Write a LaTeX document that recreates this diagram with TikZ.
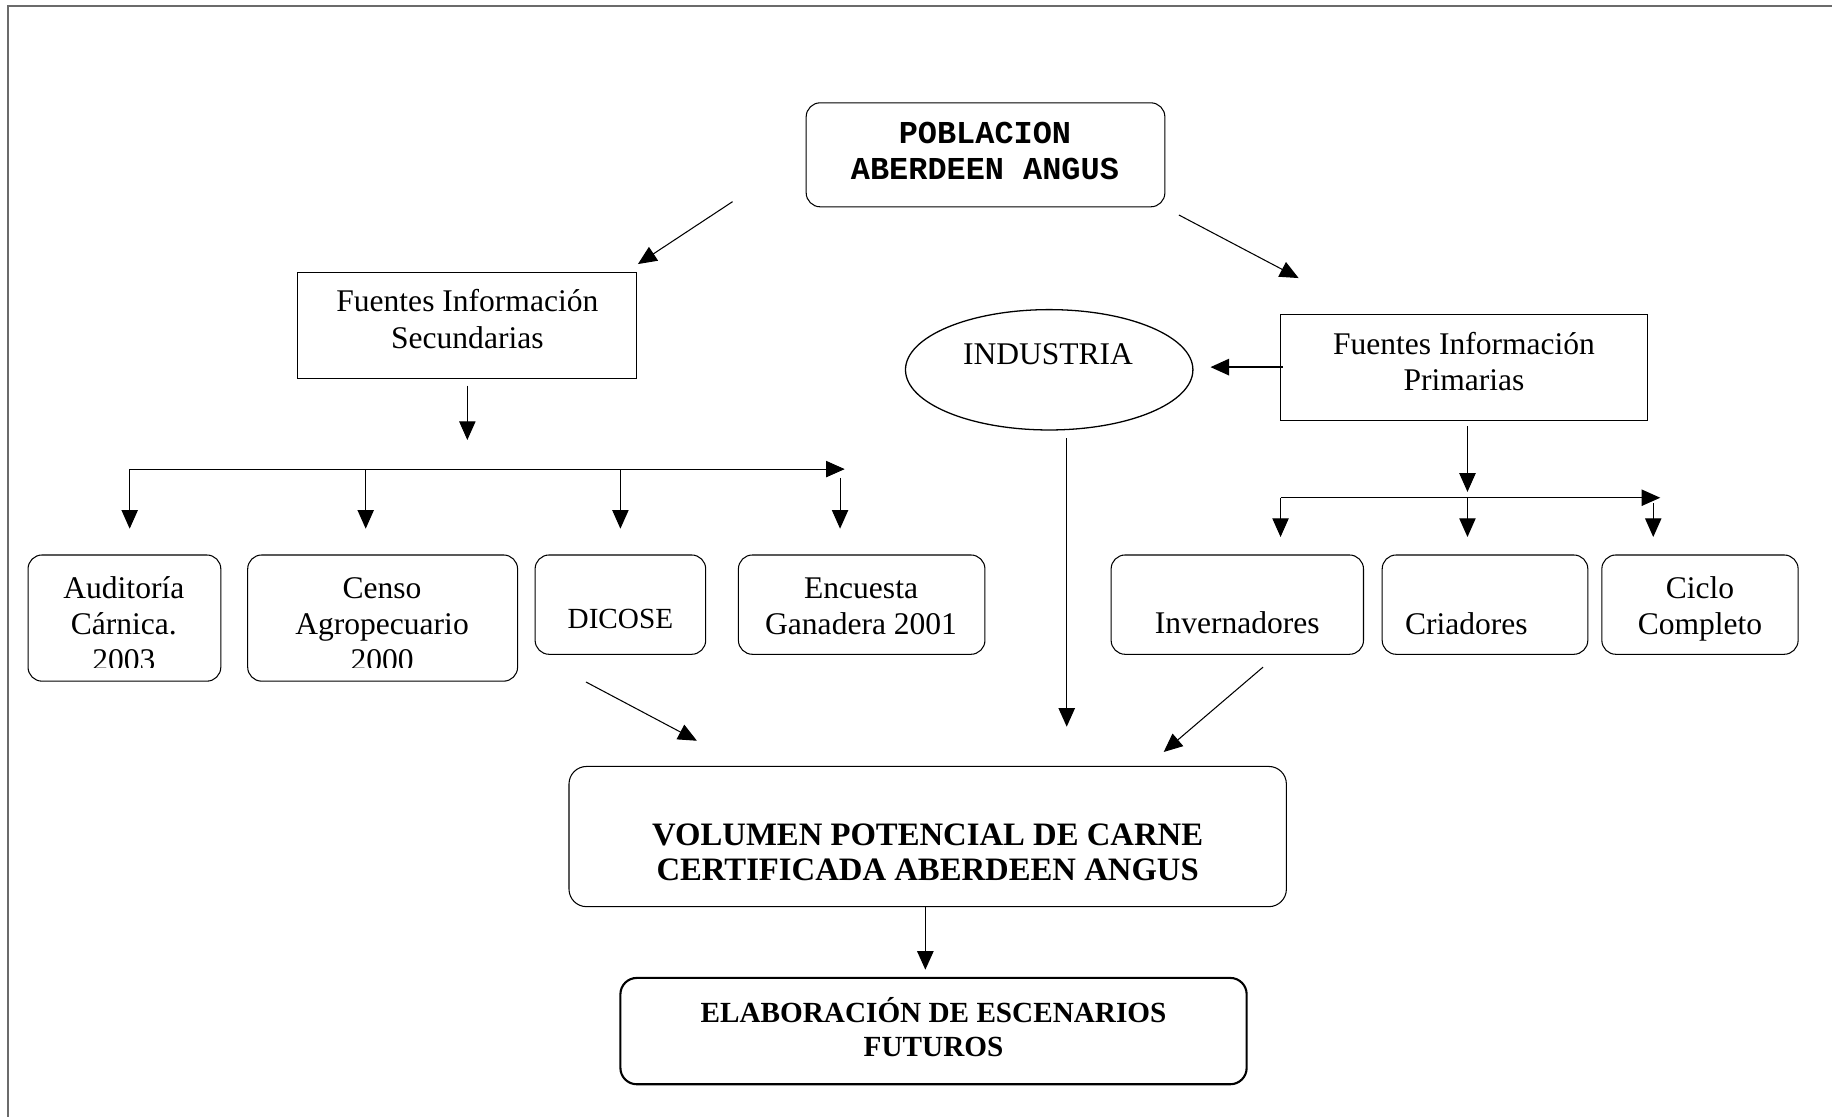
\documentclass[tikz,border=0pt]{standalone}
\usepackage{fontspec}
\setmainfont{Liberation Serif}
\setmonofont{Liberation Mono}
\usetikzlibrary{arrows.meta,shapes.geometric}
\begin{document}
\begin{tikzpicture}[x=1pt,y=-1pt,
  rbox/.style={draw, rounded corners=12pt, line width=0.9pt, inner sep=0pt},
  sbox/.style={draw, line width=0.9pt, inner sep=0pt},
  txt/.style={inner sep=0pt, align=center, text height=18pt, text depth=0pt,
    font=\fontsize{27}{31}\selectfont},
  btxt/.style={txt, font=\fontsize{28}{30}\selectfont\bfseries},
  ttxt/.style={txt, font=\fontsize{27.3}{31}\selectfont\ttfamily\bfseries},
  arr/.style={line width=0.9pt, -{Triangle[length=16pt,width=14pt]}},
  ln/.style={line width=0.9pt}]
\useasboundingbox (0,0) rectangle (1568,956);
% frame
\draw[line width=1.3pt, color=black!58] (7,956) -- (7,5.3) -- (1568,5.3);

% boxes
\node[rbox, minimum width=307pt, minimum height=89pt] (pob) at (843.5,132.5) {};
\node[sbox, minimum width=290pt, minimum height=91pt] (sec) at (400,278.5) {};
\node[draw, ellipse, line width=1.1pt, minimum width=246pt, minimum height=103pt, inner sep=0pt] (ind) at (898,316.5) {};
\node[sbox, minimum width=314pt, minimum height=91pt] (pri) at (1253,314.5) {};
\node[rbox, minimum width=165pt, minimum height=108pt] (aud) at (106.5,529) {};
\node[rbox, minimum width=231pt, minimum height=108pt] (cen) at (327.5,529) {};
\node[rbox, minimum width=146pt, minimum height=85pt] (dic) at (531,517.5) {};
\node[rbox, minimum width=211pt, minimum height=85pt] (enc) at (737.5,517.5) {};
\node[rbox, minimum width=216pt, minimum height=85pt] (inv) at (1059,517.5) {};
\node[rbox, minimum width=176pt, minimum height=85pt] (cri) at (1271,517.5) {};
\node[rbox, minimum width=168pt, minimum height=85pt] (cic) at (1455,517.5) {};
\node[rbox, rounded corners=15pt, minimum width=614pt, minimum height=120pt] (vol) at (794,716) {};
\node[rbox, rounded corners=14pt, line width=1.8pt, minimum width=536pt, minimum height=91pt] (ela) at (799,882.5) {};

% texts (node position = visual centre of the last line)
\node[ttxt] (tpob) at (843,145) {POBLACION\\ABERDEEN ANGUS};
\node[txt] (tsec) at (400,289) {Fuentes Información\\Secundarias};
\node[txt] (tind) at (897,303) {INDUSTRIA};
\node[txt] (tpri) at (1253,325) {Fuentes Información\\Primarias};
\begin{scope}
  \clip (24,470) rectangle (189,571);
  \node[txt] (taud) at (106,565) {Auditoría\\Cárnica.\\2003};
\end{scope}
\begin{scope}
  \clip (212,470) rectangle (443,571);
  \node[txt] (tcen) at (327,565) {Censo\\Agropecuario\\2000};
\end{scope}
\node[txt, font=\fontsize{25}{29}\selectfont] (tdic) at (531,529) {DICOSE};
\node[txt] (tenc) at (737,534) {Encuesta\\Ganadera 2001};
\node[txt] (tinv) at (1059,533) {Invernadores};
\node[txt] (tcri) at (1255,534) {Criadores};
\node[txt] (tcic) at (1455,534) {Ciclo\\Completo};
\node[btxt] (tvol) at (794,745) {VOLUMEN POTENCIAL DE CARNE\\CERTIFICADA ABERDEEN ANGUS};
\node[btxt, font=\fontsize{25}{29}\selectfont\bfseries] (tela) at (799,895) {ELABORACIÓN DE ESCENARIOS\\FUTUROS};

% connector end points
\coordinate (a1s) at (627,172.6);  \coordinate (a1e) at (546,226);
\coordinate (a2s) at (1009,184);   \coordinate (a2e) at (1111.5,238);
\coordinate (a3s) at (400,330);    \coordinate (a3e) at (400,376.6);
\coordinate (busL) at (111,401.5); \coordinate (busR) at (723,401.5);
\coordinate (d1s) at (111,401.5);  \coordinate (d1e) at (111,452.5);
\coordinate (d2s) at (313,401.5);  \coordinate (d2e) at (313,452.5);
\coordinate (d3s) at (531,401.5);  \coordinate (d3e) at (531,452.5);
\coordinate (d4s) at (719,409);    \coordinate (d4e) at (719,452.5);
\coordinate (a4s) at (1098,314.2); \coordinate (a4e) at (1036,314.2);
\coordinate (a5s) at (1256,365);   \coordinate (a5e) at (1256,421);
\coordinate (bus2L) at (1096,426); \coordinate (bus2R) at (1421,426);
\coordinate (e1s) at (1096,426);   \coordinate (e1e) at (1096,459.6);
\coordinate (e2s) at (1256,426);   \coordinate (e2e) at (1256,459.6);
\coordinate (e3s) at (1415,430.6); \coordinate (e3e) at (1415,459.6);
\coordinate (a6s) at (913,375);    \coordinate (a6e) at (913,622);
\coordinate (a7s) at (501.5,583.7);\coordinate (a7e) at (596.5,634);
\coordinate (a8s) at (1081,571);   \coordinate (a8e) at (996,643.6);
\coordinate (a9s) at (792,776);    \coordinate (a9e) at (792,830);

% connectors
\draw[arr] (a1s) -- (a1e);
\draw[arr] (a2s) -- (a2e);
\draw[arr] (a3s) -- (a3e);
\draw[arr] (busL) -- (busR);
\draw[arr] (d1s) -- (d1e);
\draw[arr] (d2s) -- (d2e);
\draw[arr] (d3s) -- (d3e);
\draw[arr] (d4s) -- (d4e);
\draw[arr, line width=1.8pt] (a4s) -- (a4e);
\draw[arr] (a5s) -- (a5e);
\draw[arr] (bus2L) -- (bus2R);
\draw[arr] (e1s) -- (e1e);
\draw[arr] (e2s) -- (e2e);
\draw[arr] (e3s) -- (e3e);
\draw[arr, line width=1.3pt] (a6s) -- (a6e);
\draw[arr] (a7s) -- (a7e);
\draw[arr] (a8s) -- (a8e);
\draw[arr, line width=1.4pt] (a9s) -- (a9e);
\end{tikzpicture}
\end{document}
